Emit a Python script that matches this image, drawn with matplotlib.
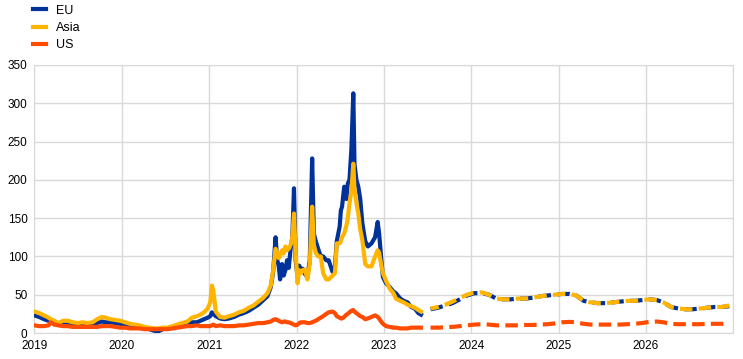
import pandas as pd
import matplotlib.pyplot as plt
import matplotlib.dates as mdates

plt.rcParams['font.family'] = ['Liberation Sans', 'DejaVu Sans']

# historical prices (EUR/MWh)
hist_dates = [
    '2019-01-01', '2019-01-20', '2019-02-10', '2019-03-01', '2019-03-10', '2019-03-25',
    '2019-04-10', '2019-05-01', '2019-05-20', '2019-06-10', '2019-07-01', '2019-07-20',
    '2019-08-10', '2019-09-01', '2019-09-20', '2019-10-10', '2019-10-25', '2019-11-15',
    '2019-12-05', '2019-12-25', '2020-01-15', '2020-02-05', '2020-02-25', '2020-03-15',
    '2020-04-05', '2020-04-25', '2020-05-15', '2020-06-01', '2020-06-20', '2020-07-10',
    '2020-08-01', '2020-08-20', '2020-09-10', '2020-10-01', '2020-10-20', '2020-11-10',
    '2020-11-25', '2020-12-10', '2020-12-25', '2021-01-05', '2021-01-12', '2021-01-18',
    '2021-01-28', '2021-02-15', '2021-03-05', '2021-03-25', '2021-04-15', '2021-05-05',
    '2021-05-25', '2021-06-15', '2021-07-05', '2021-07-25', '2021-08-15', '2021-09-01',
    '2021-09-15', '2021-09-25', '2021-10-05', '2021-10-12', '2021-10-18', '2021-10-24',
    '2021-11-01', '2021-11-08', '2021-11-15', '2021-11-22', '2021-11-29', '2021-12-07',
    '2021-12-14', '2021-12-21', '2021-12-28', '2022-01-05', '2022-01-12', '2022-01-19',
    '2022-01-26', '2022-02-05', '2022-02-15', '2022-02-25', '2022-03-07', '2022-03-14',
    '2022-03-22', '2022-04-01', '2022-04-12', '2022-04-22', '2022-05-05', '2022-05-15',
    '2022-05-31', '2022-06-10', '2022-06-18', '2022-06-30', '2022-07-05', '2022-07-10',
    '2022-07-19', '2022-07-28', '2022-08-03', '2022-08-10', '2022-08-18', '2022-08-26',
    '2022-08-31', '2022-09-08', '2022-09-16', '2022-09-24', '2022-10-03', '2022-10-15',
    '2022-10-26', '2022-11-10', '2022-11-25', '2022-12-06', '2022-12-12', '2022-12-20',
    '2022-12-28', '2023-01-10', '2023-01-25', '2023-02-10', '2023-02-20', '2023-03-10',
    '2023-03-25', '2023-04-10', '2023-04-25', '2023-05-10', '2023-05-25', '2023-06-05']
eu_hist = [
    23, 21, 18, 16, 15, 14, 13, 12, 11, 11, 10, 10, 11, 11, 13, 15, 14, 14, 13, 12,
    11, 10, 9, 8, 7, 5, 3, 2, 5, 6, 7, 9, 11, 13, 14, 14, 16, 18, 20, 22, 27, 25,
    22, 19, 18, 19, 21, 24, 26, 29, 33, 37, 43, 48, 60, 80, 125, 95, 88, 70,
    90, 75, 82, 95, 85, 110, 125, 189, 95, 73, 88, 80, 84, 77, 73, 95, 228, 130,
    120, 110, 100, 100, 95, 95, 80, 85, 120, 139, 160, 165, 191, 175, 195, 200, 240, 313,
    221, 200, 191, 175, 143, 120, 113, 117, 125, 145, 130, 100, 73, 65, 60, 54, 52, 45,
    42, 40, 34, 32, 26, 24]
asia_hist = [
    28, 26, 23, 20, 18, 16, 13, 16, 16, 14, 13, 14, 13, 14, 18, 21, 20, 18, 17, 16,
    14, 12, 11, 10, 8, 7, 6, 6, 7, 7, 9, 11, 13, 15, 20, 22, 24, 27, 32, 40, 62, 55,
    28, 21, 20, 22, 24, 27, 29, 33, 36, 41, 46, 52, 62, 82, 110, 105, 98, 100,
    108, 104, 113, 108, 110, 115, 125, 156, 105, 65, 82, 78, 82, 83, 70, 90, 165, 115,
    105, 100, 100, 78, 70, 70, 75, 78, 117, 117, 120, 125, 130, 140, 150, 169, 185, 221,
    187, 170, 156, 135, 121, 90, 87, 87, 100, 108, 105, 90, 78, 68, 58, 52, 45, 42,
    40, 37, 35, 33, 30, 28]
us_hist = [
    10, 9, 9, 10, 14, 11, 10, 9, 9, 8, 8, 8, 8, 8, 8, 9, 9, 9, 8, 7,
    7, 6, 6, 6, 5, 5, 5, 5, 5, 5, 6, 7, 8, 9, 9, 10, 9, 9, 9, 9, 10, 11,
    9, 10, 9, 9, 9, 10, 10, 11, 12, 13, 13, 14, 15, 17, 18, 17, 16, 15,
    14, 15, 15, 14, 14, 13, 12, 11, 10, 11, 13, 14, 14, 14, 13, 13, 14, 15,
    16, 18, 20, 22, 25, 27, 28, 26, 22, 20, 19, 19, 21, 24, 25, 27, 29, 30,
    28, 26, 24, 22, 21, 18, 19, 21, 23, 21, 19, 15, 12, 9, 8, 7, 7, 6,
    6, 6, 7, 7, 7, 7]

# futures
fut_dates = pd.date_range('2023-06-15', '2026-12-15', freq='MS') + pd.Timedelta(days=14)
eu_fut = [
    31, 33, 36, 39, 44, 49, 52,
    52, 50, 45, 44, 44, 45, 45, 46, 48, 49, 50, 51,
    51, 49, 42, 40, 39, 39, 40, 41, 42, 42, 43, 44,
    43, 40, 34, 32, 31, 31, 32, 33, 34, 34, 35]
asia_fut = [
    32, 34, 37, 41, 46, 50, 53,
    53, 50, 45, 44, 44, 45, 45, 46, 48, 49, 50, 51,
    51, 49, 42, 40, 39, 39, 40, 41, 42, 42, 43, 44,
    43, 40, 34, 32, 31, 31, 32, 33, 34, 34, 36]
us_fut = [
    7, 7, 7.5, 8, 9, 10, 11,
    11.5, 11, 10, 10, 10, 10, 10.5, 10.5, 11, 11.5, 12.5, 14,
    14.5, 14, 12, 11, 11, 11, 11, 11, 11.5, 12, 13, 14.5,
    15, 14, 12, 11.5, 11.5, 11.5, 11.5, 12, 12, 12, 13]

hd = pd.to_datetime(hist_dates)
fd = fut_dates[:len(eu_fut)]

blue, yellow, orange = '#003299', '#FFB400', '#FF4B00'

fig = plt.figure(figsize=(7.43, 3.59), dpi=100)
ax = fig.add_axes([0.0464, 0.0724, 0.9406, 0.7466])

lw = 3.0
ax.plot(hd, eu_hist, color=blue, lw=lw, label='EU', zorder=3)
ax.plot(hd, asia_hist, color=yellow, lw=lw, label='Asia', zorder=4)
ax.plot(hd, us_hist, color=orange, lw=lw, label='US', zorder=5)
ax.plot(fd, eu_fut, color=blue, lw=lw, ls=(0, (3, 1.5)), zorder=3)
ax.plot(fd, asia_fut, color=yellow, lw=lw, ls=(1.0, (3, 1.5)), zorder=4)
ax.plot(fd, us_fut, color=orange, lw=lw, ls=(0, (3, 1.5)), zorder=5)

ax.set_xlim(pd.Timestamp('2019-01-01'), pd.Timestamp('2027-01-01'))
ax.set_ylim(0, 350)
ax.set_yticks(range(0, 351, 50))
ax.xaxis.set_major_locator(mdates.YearLocator())
ticks = ax.get_xticks()
ax.set_xticks(ticks)
ax.set_xticklabels([mdates.num2date(t).strftime('%Y') if i < len(ticks) - 1 else ''
                    for i, t in enumerate(ticks)])
ax.grid(True, color='#d9d9d9', lw=1)
ax.set_axisbelow(True)
for s in ax.spines.values():
    s.set_color('#d9d9d9')
ax.tick_params(length=0, labelsize=8.5, pad=5)

fig.legend(loc='upper left', bbox_to_anchor=(0.043, 0.99), frameon=False,
           fontsize=9, handlelength=1.0, handletextpad=0.8, labelspacing=0.42,
           borderpad=0.1, borderaxespad=0)

fig.savefig('out.png', dpi=100)
